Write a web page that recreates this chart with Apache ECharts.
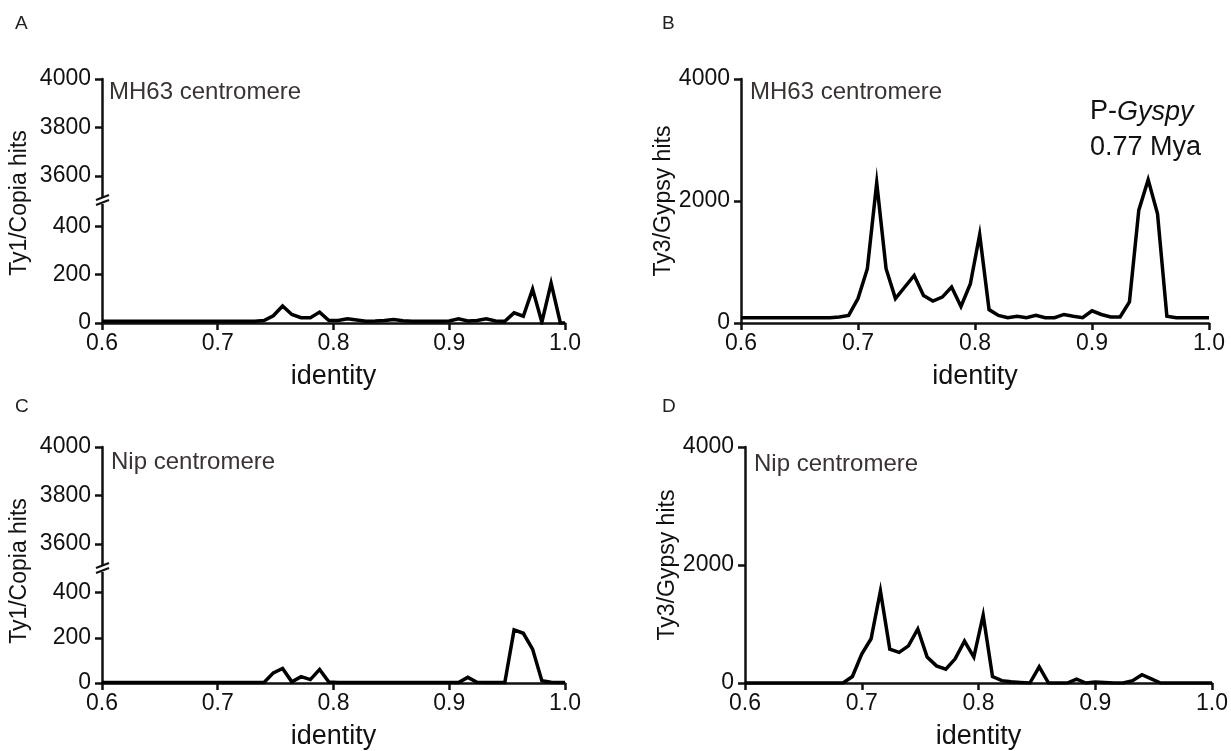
<!DOCTYPE html>
<html>
<head>
<meta charset="utf-8">
<script src="https://cdn.jsdelivr.net/npm/echarts@6/dist/echarts.min.js"></script>
<style>
  html, body { margin: 0; padding: 0; background: #fff; }
  #chart { width: 1231px; height: 751px; }
</style>
</head>
<body>
<div id="chart"></div>
<script>
// identity bins
const identity = [0.600, 0.604, 0.612, 0.620, 0.628, 0.636, 0.644, 0.652, 0.660, 0.668, 0.676,
  0.684, 0.692, 0.700, 0.708, 0.716, 0.724, 0.732, 0.740, 0.748, 0.756, 0.764, 0.772, 0.780,
  0.788, 0.796, 0.804, 0.812, 0.820, 0.828, 0.836, 0.844, 0.852, 0.860, 0.868, 0.876, 0.884,
  0.892, 0.900, 0.908, 0.916, 0.924, 0.932, 0.940, 0.948, 0.956, 0.964, 0.972, 0.980, 0.988,
  0.996, 1.000];

// A: Ty1/Copia, MH63 centromere
const copiaMH63 = [7, 7, 7, 7, 7, 7, 7, 7, 7, 7, 7, 7, 7, 7, 7, 7, 7, 7,
  10, 30, 70, 35, 22, 22, 45, 10, 10, 17, 12, 7, 8, 10, 14, 9, 7, 7, 7, 7, 8, 17, 8, 10, 17,
  8, 7, 42, 28, 140, 3, 165, 0, 0];
// B: Ty3/Gypsy, MH63 centromere
const gypsyMH63 = [87, 87, 87, 87, 87, 87, 87, 87, 87, 87, 87,
  100, 125, 400, 890, 2300, 890, 400, 590, 780, 450, 360, 425, 590, 270, 640, 1450, 220, 125,
  87, 110, 87, 125, 87, 87, 140, 110, 87, 200, 140, 100, 100, 345, 1850, 2350, 1790, 110,
  87, 87, 87, 87, 87];
// C: Ty1/Copia, Nip centromere
const copiaNip = [2, 2, 2, 2, 2, 2, 2, 2, 2, 2, 2, 2, 2, 2, 2, 2, 2, 2, 2,
  45, 64, 5, 28, 15, 60, 4, 2, 2, 2, 2, 2, 2, 2, 2, 2, 2, 2, 2, 2, 2,
  25, 3, 2, 2, 2, 235, 220, 150, 10, 3, 2, 2];
// D: Ty3/Gypsy, Nip centromere
const gypsyNip = [0, 0, 0, 0, 0, 0, 0, 0, 0, 0, 0, 0,
  110, 490, 750, 1560, 575, 520, 630, 915, 440, 290, 235, 410, 710, 440, 1150, 110, 40, 20,
  10, 0, 275, 0, 0, 0, 65, 0, 15, 10, 0, 0, 40, 140, 70, 0, 0, 0, 0, 0, 0, 0];

const xTicks = [0.6, 0.7, 0.8, 0.9, 1.0];
const copiaLowTicks = [0, 200, 400];
const copiaHighTicks = [3600, 3800, 4000];
const gypsyTicks = [0, 2000, 4000];

const FONT = 'Liberation Sans, Arial, sans-serif';
const INK = '#111';
const NOTE = '#3b3232';

// panel boxes: [left, top, width, height]
const boxA = [102, 79, 463, 244];
const boxB = [741, 79, 468, 244];
const boxC = [102, 447, 463, 244];
const boxD = [745, 447, 467, 245];
const upperH = 121; // 3500..4000 part of the broken axis
const breakGap = 2;

const chart = echarts.init(document.getElementById('chart'));

function grid(b, top, h) {
  return { left: b[0], top: top, width: b[2], height: h, containLabel: false };
}

const axisLine = { show: true, onZero: false, lineStyle: { color: INK, width: 2.5 } };
const axisTick = { show: true, length: 7, lineStyle: { color: INK, width: 2.5 } };

function xAx(gi, show) {
  return {
    gridIndex: gi, type: 'value', min: 0.6, max: 1.0, interval: 0.1,
    show: show,
    axisLine: axisLine,
    axisTick: Object.assign({ customValues: xTicks }, axisTick),
    axisLabel: {
      customValues: xTicks, fontSize: 23, fontFamily: FONT, color: INK, margin: 9,
      formatter: v => v.toFixed(1)
    },
    splitLine: { show: false },
    name: 'identity', nameLocation: 'middle', nameGap: 40,
    nameTextStyle: { fontSize: 27, fontFamily: FONT, color: INK }
  };
}

function yAx(gi, min, max, ticks, name) {
  return {
    gridIndex: gi, type: 'value', min: min, max: max,
    axisLine: axisLine,
    axisTick: Object.assign({ customValues: ticks }, axisTick),
    axisLabel: {
      customValues: ticks, fontSize: 23, fontFamily: FONT, color: INK, margin: 11,
      formatter: v => String(v)
    },
    splitLine: { show: false },
    name: name || '', nameLocation: 'middle', nameGap: 66,
    nameTextStyle: { fontSize: 23, fontFamily: FONT, color: INK }
  };
}

function line(xi, data) {
  return {
    type: 'line', xAxisIndex: xi, yAxisIndex: xi,
    data: identity.map((x, i) => [x, data[i]]),
    showSymbol: false, silent: true,
    lineStyle: { color: '#000', width: 3.5, join: 'miter' },
    z: 3
  };
}

function text(x, y, str, size, extra) {
  return {
    type: 'text', x: x, y: y, silent: true,
    style: Object.assign({ text: str, fontSize: size, fontFamily: FONT, fill: INK }, extra || {})
  };
}

function breakMark(b) {
  const x = b[0], y = b[1] + upperH + breakGap / 2;
  return [
    { type: 'rect', shape: { x: x - 3, y: y - 3, width: 6, height: 6 }, style: { fill: '#fff' }, z: 10 },
    { type: 'line', shape: { x1: x - 6, y1: y - 1, x2: x + 7, y2: y - 6 }, style: { stroke: INK, lineWidth: 2 }, z: 11 },
    { type: 'line', shape: { x1: x - 6, y1: y + 4, x2: x + 7, y2: y - 1 }, style: { stroke: INK, lineWidth: 2 }, z: 11 }
  ];
}

function copiaName(b) {
  const t = text(20, b[1] + b[3] / 2 + 2, 'Ty1/Copia hits', 23,
    { textAlign: 'center', textVerticalAlign: 'middle' });
  t.rotation = Math.PI / 2;
  return t;
}

const lowH = boxA[3] - upperH - breakGap;

const option = {
  animation: false,
  backgroundColor: '#fff',
  grid: [
    grid(boxA, boxA[1], upperH),
    grid(boxA, boxA[1] + upperH + breakGap, lowH),
    grid(boxB, boxB[1], boxB[3]),
    grid(boxC, boxC[1], upperH),
    grid(boxC, boxC[1] + upperH + breakGap, lowH),
    grid(boxD, boxD[1], boxD[3])
  ],
  xAxis: [xAx(0, false), xAx(1, true), xAx(2, true), xAx(3, false), xAx(4, true), xAx(5, true)],
  yAxis: [
    yAx(0, 3500, 4000, copiaHighTicks),
    yAx(1, 0, 500, copiaLowTicks),
    yAx(2, 0, 4000, gypsyTicks, 'Ty3/Gypsy hits'),
    yAx(3, 3500, 4000, copiaHighTicks),
    yAx(4, 0, 500, copiaLowTicks),
    yAx(5, 0, 4000, gypsyTicks, 'Ty3/Gypsy hits')
  ],
  series: [
    line(1, copiaMH63),
    line(2, gypsyMH63),
    line(4, copiaNip),
    line(5, gypsyNip)
  ],
  graphic: [
    text(15, 14, 'A', 19, { fill: '#222' }),
    text(662, 14, 'B', 19, { fill: '#222' }),
    text(15, 397, 'C', 19, { fill: '#222' }),
    text(662, 397, 'D', 19, { fill: '#222' }),
    text(boxA[0] + 7, boxA[1] + 1, 'MH63 centromere', 24, { fill: NOTE }),
    text(boxB[0] + 9, boxB[1] + 1, 'MH63 centromere', 24, { fill: NOTE }),
    text(boxC[0] + 9, boxC[1] + 3, 'Nip centromere', 24, { fill: NOTE }),
    text(boxD[0] + 9, boxD[1] + 5, 'Nip centromere', 24, { fill: NOTE }),
    {
      type: 'text', x: 1090, y: 94, silent: true,
      style: {
        text: '{n|P-}{i|Gyspy}\n{n|0.77 Mya}', fontFamily: FONT, fill: INK,
        rich: {
          n: { fontSize: 27, fontFamily: FONT, fill: INK, lineHeight: 36 },
          i: { fontSize: 27, fontFamily: FONT, fill: INK, fontStyle: 'italic', lineHeight: 36 }
        }
      }
    },
    copiaName(boxA),
    copiaName(boxC)
  ].concat(breakMark(boxA), breakMark(boxC))
};

chart.setOption(option);
</script>
</body>
</html>
